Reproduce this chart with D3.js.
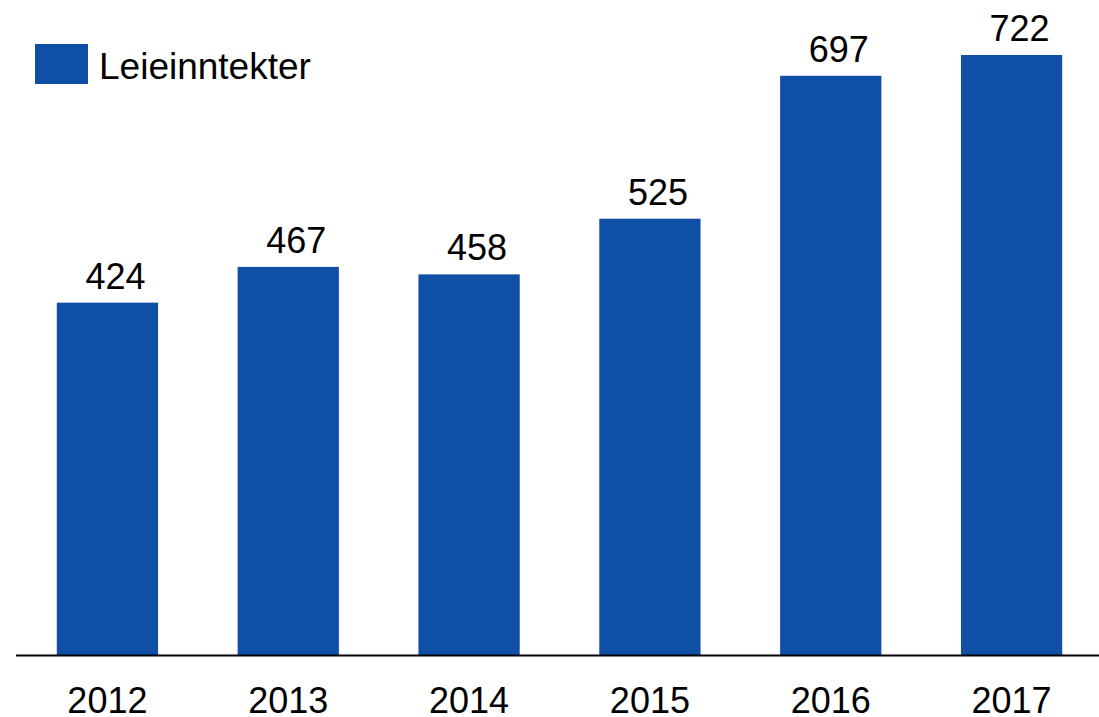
<!DOCTYPE html>
<html>
<head>
<meta charset="utf-8">
<script src="https://cdn.jsdelivr.net/npm/d3@7"></script>
<style>
  body { margin: 0; background: #fff; }
  text { font-family: "Liberation Sans", Arial, sans-serif; fill: #000; }
</style>
</head>
<body>
<div id="chart"></div>
<script>
// data
const years = ["2012", "2013", "2014", "2015", "2016", "2017"];
const values = [424, 467, 458, 525, 697, 722];
const seriesName = "Leieinntekter";

const width = 1099;
const height = 717;
const barColor = "#0f4fa6";

const svg = d3.select("#chart")
              .append("svg")
              .attr("width", width)
              .attr("height", height);

const xScale = d3.scaleBand()
                 .domain(years)
                 .range([17, 1102])
                 .paddingInner(0.44)
                 .paddingOuter(0.22);

const yScale = d3.scaleLinear()
                 .domain([0, 722])
                 .range([655, 55]);

// bars
svg.selectAll("rect.bar")
   .data(values)
   .enter()
   .append("rect")
   .attr("class", "bar")
   .attr("x", (d, i) => xScale(years[i]))
   .attr("y", d => yScale(d))
   .attr("width", xScale.bandwidth())
   .attr("height", d => yScale(0) - yScale(d))
   .attr("fill", barColor);

// value labels (sit a bit right of bar centre, like the original)
svg.selectAll("text.val")
   .data(values)
   .enter()
   .append("text")
   .attr("class", "val")
   .attr("x", (d, i) => xScale(years[i]) + xScale.bandwidth() / 2 + 8)
   .attr("y", d => yScale(d) - 14)
   .attr("text-anchor", "middle")
   .style("font-size", "36px")
   .text(d => d);

// x axis
const xAxis = d3.axisBottom(xScale).tickSize(0).tickPadding(32);
const gx = svg.append("g")
   .attr("transform", `translate(0, ${yScale(0)})`)
   .call(xAxis);
gx.select(".domain").remove();
gx.selectAll("text")
  .style("font-size", "36px")
  .style("font-family", '"Liberation Sans", Arial, sans-serif');

svg.append("line")
   .attr("x1", 16)
   .attr("x2", width)
   .attr("y1", yScale(0) + 0.5)
   .attr("y2", yScale(0) + 0.5)
   .attr("stroke", "#000")
   .attr("stroke-width", 2);

// legend
svg.append("rect")
   .attr("x", 35)
   .attr("y", 44)
   .attr("width", 53)
   .attr("height", 40)
   .attr("fill", barColor);
svg.append("text")
   .attr("x", 99)
   .attr("y", 79)
   .style("font-size", "37px")
   .text(seriesName);
</script>
</body>
</html>
